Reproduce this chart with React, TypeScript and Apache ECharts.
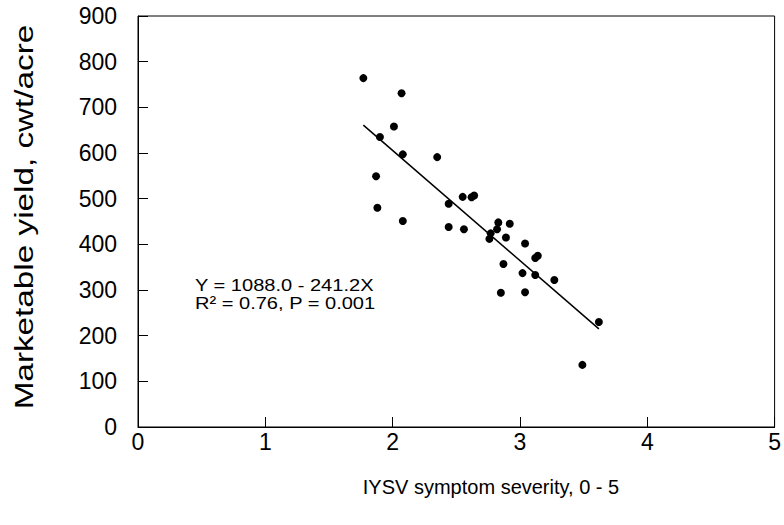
import React, { useEffect, useRef } from "react";
import * as echarts from "echarts";

const severity: number[] = [
  1.77, 2.07, 2.01, 1.9, 2.08, 2.35, 1.87, 1.88, 2.08, 2.44, 2.55, 2.44, 2.56,
  2.62, 2.64, 2.83, 2.92, 2.82, 2.77, 2.76, 2.89, 3.04, 3.12, 3.14, 2.87, 3.02,
  3.12, 3.27, 2.85, 3.04, 3.62, 3.49,
];
const yieldCwt: number[] = [
  764, 731, 658, 635, 597, 591, 549, 480, 451, 489, 504, 438, 433, 503, 507,
  448, 445, 433, 424, 412, 415, 402, 370, 375, 357, 337, 333, 322, 294, 295,
  230, 136,
];
const intercept = 1088.0;
const slope = -241.2;
const fitRange: number[] = [1.77, 3.62];
const equationLines: string[] = ["Y = 1088.0 - 241.2X", "R² = 0.76, P = 0.001"];
const xTitle = "IYSV symptom severity, 0 - 5";
const yTitle = "Marketable yield, cwt/acre";

const FONT = "'Liberation Sans', Arial, Helvetica, sans-serif";

export default function App() {
  const ref = useRef<HTMLDivElement>(null);
  useEffect(() => {
    if (!ref.current) return;
    const chart = echarts.init(ref.current, undefined, { renderer: "svg" });
    const points = severity.map((x, i) => [x, yieldCwt[i]]);
    const fit = fitRange.map((x) => [x, intercept + slope * x]);
    const eqText = (text: string, y: number) => ({
      type: "text",
      x: 195,
      y,
      scaleX: 1.18,
      scaleY: 1,
      style: {
        text,
        fontFamily: FONT,
        fontSize: 17,
        fill: "#000",
        align: "left",
        verticalAlign: "middle",
      },
    });
    chart.setOption({
      animation: false,
      backgroundColor: "#fff",
      grid: {
        left: 138,
        right: 8,
        top: 16,
        bottom: 98,
        show: true,
        borderColor: "#000",
        borderWidth: 1,
        backgroundColor: "transparent",
      },
      xAxis: {
        type: "value",
        min: 0,
        max: 5,
        interval: 1,
        axisLine: { show: true, lineStyle: { color: "#000", width: 1 } },
        axisTick: { show: true, inside: true, length: 10, lineStyle: { color: "#000" } },
        axisLabel: { fontFamily: FONT, fontSize: 23, color: "#000", margin: 3 },
        splitLine: { show: false },
      },
      yAxis: {
        type: "value",
        min: 0,
        max: 900,
        interval: 100,
        axisLine: { show: true, lineStyle: { color: "#000", width: 1 } },
        axisTick: { show: true, inside: true, length: 10, lineStyle: { color: "#000" } },
        axisLabel: { fontFamily: FONT, fontSize: 23, color: "#000", margin: 21 },
        splitLine: { show: false },
      },
      graphic: [
        {
          type: "text",
          x: 24,
          y: 217,
          rotation: Math.PI / 2,
          scaleX: 1.28,
          scaleY: 1,
          style: {
            text: yTitle,
            fontFamily: FONT,
            fontSize: 26,
            fill: "#000",
            align: "center",
            verticalAlign: "middle",
          },
        },
        {
          type: "text",
          x: 491,
          y: 487,
          style: {
            text: xTitle,
            fontFamily: FONT,
            fontSize: 20,
            fill: "#000",
            align: "center",
            verticalAlign: "middle",
          },
        },
        eqText(equationLines[0], 285),
        eqText(equationLines[1], 303),
      ],
      series: [
        {
          type: "scatter",
          data: points,
          symbol: "circle",
          symbolSize: 8,
          itemStyle: { color: "#000", opacity: 1 },
        },
        {
          type: "line",
          data: fit,
          symbol: "none",
          lineStyle: { color: "#000", width: 1.5 },
        },
      ],
    });
    return () => chart.dispose();
  }, []);
  return (
    <div
      ref={ref}
      style={{ position: "absolute", left: 0, top: 0, width: 784, height: 525 }}
    />
  );
}
